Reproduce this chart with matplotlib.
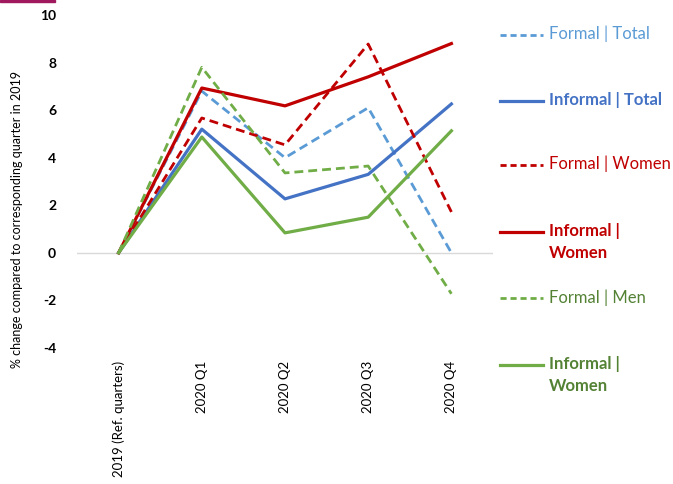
import matplotlib.pyplot as plt
from matplotlib.lines import Line2D
from matplotlib.patches import Rectangle
import numpy as np

plt.rcParams['font.family'] = ['Lato', 'DejaVu Sans']

quarters = ['2019 (Ref. quarters)', '2020 Q1', '2020 Q2', '2020 Q3', '2020 Q4']

formal_total = [0, 6.8, 4.0, 6.1, 0.0]
informal_total = [0, 5.2, 2.27, 3.3, 6.26]
formal_women = [0, 5.67, 4.54, 8.78, 1.72]
informal_women = [0, 6.93, 6.18, 7.4, 8.8]
formal_men = [0, 7.8, 3.36, 3.65, -1.72]
informal_men = [0, 4.87, 0.84, 1.5, 5.13]

labels = ['Formal | Total', 'Informal | Total', 'Formal | Women',
          'Informal |\nWomen', 'Formal | Men', 'Informal |\nWomen']
series = [formal_total, informal_total, formal_women,
          informal_women, formal_men, informal_men]
colors = ['#5B9BD5', '#4472C4', '#C00000', '#C00000', '#70AD47', '#70AD47']
text_colors = ['#5B9BD5', '#4472C4', '#C00000', '#C00000', '#548235', '#548235']
dashed = [True, False, True, False, True, False]

W, H = 673, 484
fig = plt.figure(figsize=(W / 100, H / 100), dpi=100)
ax = fig.add_axes([77 / W, 1 - 348 / H, 416 / W, 333 / H])

x = np.arange(len(quarters))
for vals, c, d in zip(series, colors, dashed):
    if d:
        ax.plot(x, vals, color=c, lw=2.0, linestyle=(0, (3.2, 1.8)))
    else:
        ax.plot(x, vals, color=c, lw=2.3)

ax.axhline(0, color='#D9D9D9', lw=1, zorder=0)
ax.set_xlim(-0.5, 4.5)
ax.set_ylim(-4, 10)
ax.set_yticks(np.arange(-4, 11, 2))
ax.set_yticklabels([str(v) for v in range(-4, 11, 2)], fontweight='bold', fontsize=10)
ax.set_xticks(x)
ax.set_xticklabels(quarters, rotation=90, fontsize=9.5)
ax.tick_params(length=0, pad=15)
ax.tick_params(axis='x', pad=9)
for s in ax.spines.values():
    s.set_visible(False)

fig.text(17 / W, 1 - 219 / H, '% change compared to corresponding quarter in 2019',
         rotation=90, ha='center', va='center', fontsize=9)

# legend drawn by hand at the right
ys = [35, 101, 165, 232, 298, 365]
for lab, c, tc, d, yy in zip(labels, colors, text_colors, dashed, ys):
    yf = 1 - yy / H
    if d:
        ln = Line2D([500 / W, 543 / W], [yf, yf], color=c, lw=2.0,
                    linestyle=(0, (2.2, 1.4)), transform=fig.transFigure)
    else:
        ln = Line2D([500 / W, 543 / W], [yf, yf], color=c, lw=2.3,
                    transform=fig.transFigure)
    fig.add_artist(ln)
    fig.text(549 / W, yf + 9 / H, lab, color=tc, fontsize=12, va='top',
             fontweight='normal' if d else 'bold', linespacing=1.45)

fig.add_artist(Rectangle((0, 1 - 2 / H), 55 / W, 2 / H, color='#A0195F',
                         transform=fig.transFigure))

fig.savefig('out.png', dpi=100)
